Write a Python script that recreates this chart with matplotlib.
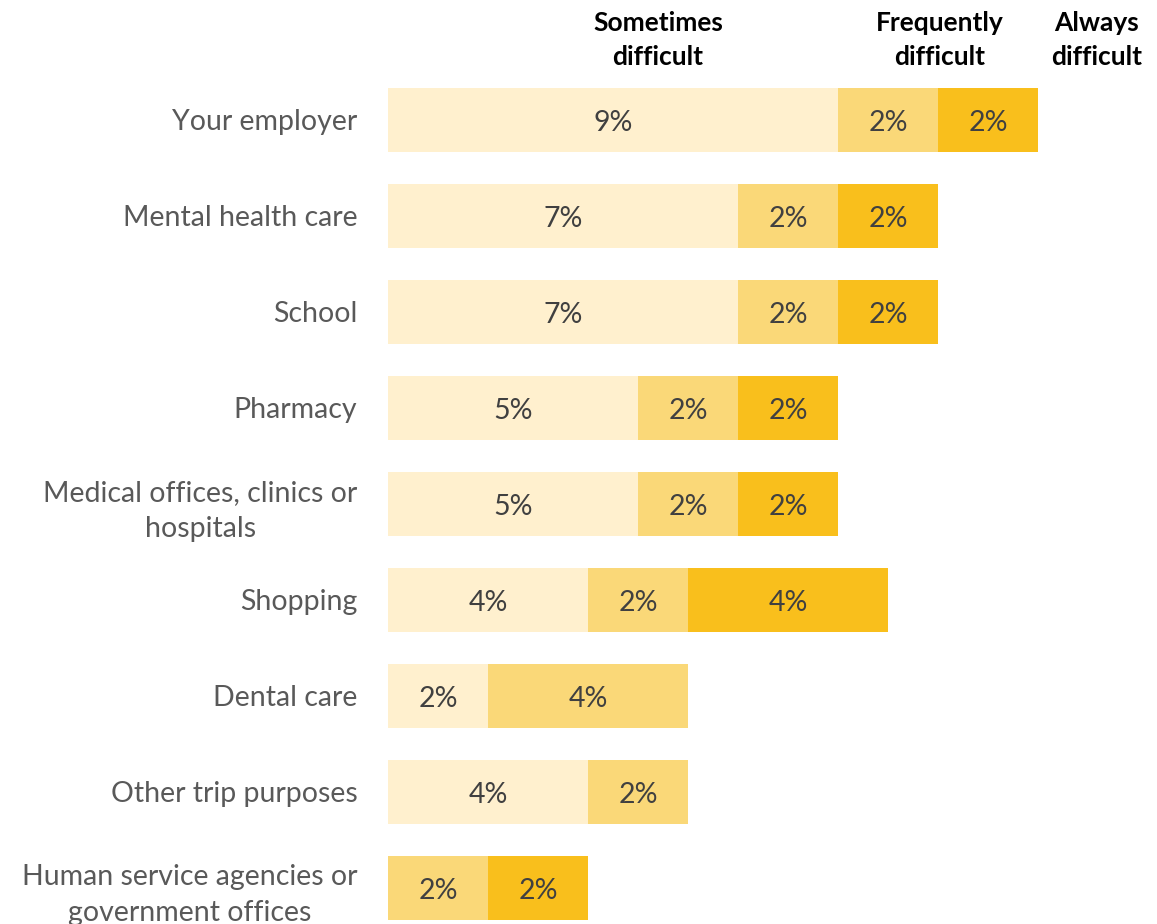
import numpy as np
import matplotlib.pyplot as plt

# Share of respondents reporting difficulty reaching each destination (%)
categories = [
    "Your employer",
    "Mental health care",
    "School",
    "Pharmacy",
    "Medical offices, clinics or\nhospitals",
    "Shopping",
    "Dental care",
    "Other trip purposes",
    "Human service agencies or\ngovernment offices",
]
sometimes = [9, 7, 7, 5, 5, 4, 2, 4, 0]
frequently = [2, 2, 2, 2, 2, 2, 4, 2, 2]
always = [2, 2, 2, 2, 2, 4, 0, 0, 2]

series = [
    ("Sometimes\ndifficult", sometimes, "#FFF0CE"),
    ("Frequently\ndifficult", frequently, "#FAD878"),
    ("Always\ndifficult", always, "#F9BF1C"),
]

plt.rcParams["font.family"] = ["Lato", "DejaVu Sans"]

W, H = 1157, 924
fig = plt.figure(figsize=(W / 100, H / 100), dpi=100)
ax = fig.add_axes([388 / W, 0, 1 - 388 / W, 1])

y = np.arange(len(categories))
left = np.zeros(len(categories))
for name, vals, color in series:
    vals = np.array(vals, dtype=float)
    ax.barh(y, vals, left=left, height=0.667, color=color, edgecolor="none")
    for yi, l, v in zip(y, left, vals):
        if v > 0:
            ax.text(l + v / 2, yi + 0.03, f"{v:.0f}%", ha="center", va="center",
                    fontsize=20.5, color="#404040")
    left += vals

ax.set_xlim(0, (W - 388) / 50)
ax.set_ylim(8.375, -1.25)
ax.set_yticks(y)
ax.set_yticklabels(categories, fontsize=20.5, color="#595959",
                   multialignment="center", linespacing=1.45)
ax.tick_params(axis="y", length=0, pad=22)
ax.set_xticks([])
for s in ax.spines.values():
    s.set_visible(False)

# column headers above the first bar
headers = [("Sometimes\ndifficult", 658), ("Frequently\ndifficult", 940), ("Always\ndifficult", 1097)]
for text, px in headers:
    fig.text(px / W, 1 - 40 / H, text, ha="center", va="center", fontsize=19,
             fontweight="bold", color="black", linespacing=1.5)

fig.savefig("out.png", dpi=100)
